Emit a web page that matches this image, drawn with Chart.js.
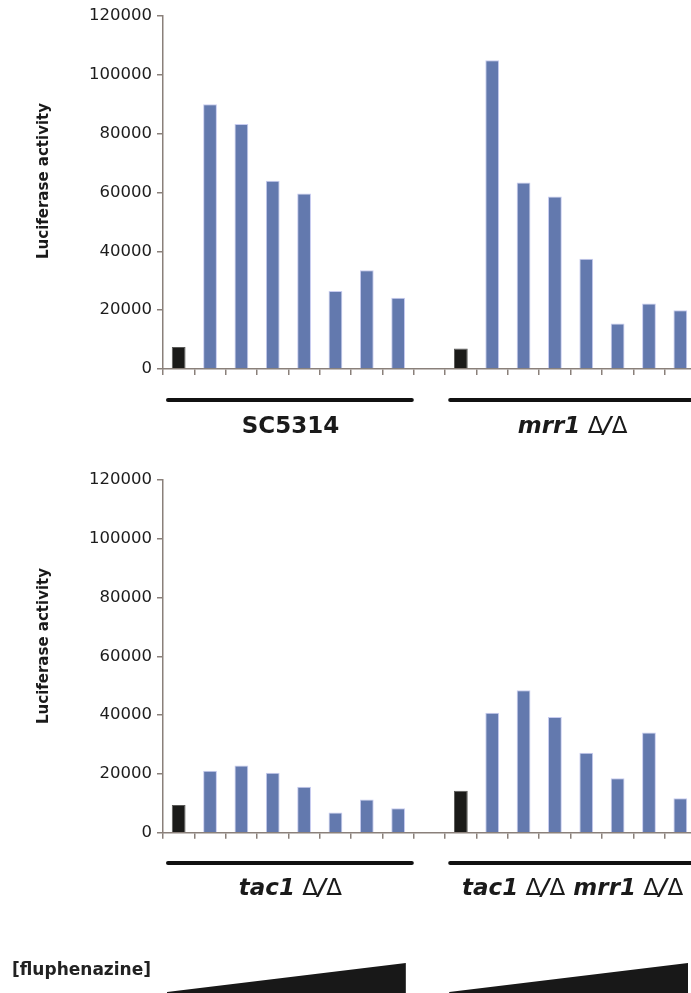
<!DOCTYPE html>
<html>
<head>
<meta charset="utf-8">
<script src="https://cdn.jsdelivr.net/npm/chart.js@4.4.0/dist/chart.umd.min.js"></script>
<style>
html, body { margin: 0; padding: 0; background: #fff; overflow: hidden; width: 691px; height: 993px; }
canvas { position: absolute; left: 0; }
#topChart { top: 0; }
#bottomChart { top: 460px; }
</style>
</head>
<body>
<canvas id="topChart" width="696" height="460"></canvas>
<canvas id="bottomChart" width="696" height="533"></canvas>
<script>
// doses: 0 = no drug (black bar), then increasing fluphenazine
const doses = ['0', '1', '2', '3', '4', '5', '6', '7'];
const sc5314 = [7500, 90000, 83300, 64000, 59700, 26500, 33600, 24200];
const mrr1 = [7000, 105000, 63400, 58600, 37500, 15500, 22300, 20000];
const tac1 = [9400, 21100, 22900, 20400, 15600, 6900, 11300, 8300];
const tac1mrr1 = [14300, 40800, 48500, 39400, 27200, 18500, 34100, 11700];
const yTicks = [0, 20000, 40000, 60000, 80000, 100000, 120000];

const BLUE = '#6379ae';
const BLACK = '#1b1b19';
const AXIS = '#8a807a';

// label pieces: [text, style]
const topLabels = [
    [['SC5314', 'b']],
    [['mrr1', 'bi'], [' \u0394', 'r'], ['/', 'bi'], ['\u0394', 'r']]
];
const bottomLabels = [
    [['tac1', 'bi'], [' \u0394', 'r'], ['/', 'bi'], ['\u0394', 'r']],
    [['tac1', 'bi'], [' \u0394', 'r'], ['/', 'bi'], ['\u0394', 'r'], [' mrr1', 'bi'], [' \u0394', 'r'], ['/', 'bi'], ['\u0394', 'r']]
];

function fontFor(style) {
    if (style === 'bi') return 'italic bold 23px "DejaVu Sans"';
    if (style === 'b') return 'bold 23px "DejaVu Sans"';
    return '23px "DejaVu Sans"';
}

function drawPieces(ctx, pieces, cx, cy) {
    let total = 0;
    pieces.forEach(p => { ctx.font = fontFor(p[1]); total += ctx.measureText(p[0]).width; });
    let x = cx - total / 2;
    ctx.textAlign = 'left';
    ctx.textBaseline = 'middle';
    pieces.forEach(p => {
        ctx.font = fontFor(p[1]);
        ctx.fillText(p[0], x, cy);
        x += ctx.measureText(p[0]).width;
    });
}

const decor = {
    id: 'decor',
    afterDraw(chart, args, o) {
        const ctx = chart.ctx;
        const xs = chart.scales.x;
        const half = (xs.getPixelForValue(1) - xs.getPixelForValue(0)) / 2;
        ctx.save();
        ctx.fillStyle = '#1a1a1a';
        // y title
        ctx.save();
        ctx.translate(44, o.titleY);
        ctx.rotate(-Math.PI / 2);
        ctx.font = 'bold 15px "DejaVu Sans"';
        ctx.textAlign = 'center';
        ctx.textBaseline = 'middle';
        ctx.fillText('Luciferase activity', 0, 0);
        ctx.restore();
        // group brackets and names
        const groups = [[0, 7], [9, 16]];
        groups.forEach((g, i) => {
            const x0 = xs.getPixelForValue(g[0]) - half;
            const x1 = xs.getPixelForValue(g[1]) + half;
            ctx.strokeStyle = '#111';
            ctx.lineWidth = 4;
            ctx.lineCap = 'round';
            ctx.beginPath();
            ctx.moveTo(x0 + 5, o.bracketY);
            ctx.lineTo(x1 - 2, o.bracketY);
            ctx.stroke();
            ctx.fillStyle = '#1a1a1a';
            drawPieces(ctx, o.labels[i], (x0 + x1) / 2 + 2, o.labelY);
            if (o.wedges) {
                ctx.fillStyle = '#181818';
                ctx.beginPath();
                ctx.moveTo(x0 + 4, o.wedgeBottom);
                ctx.lineTo(x1 - 8, o.wedgeTop);
                ctx.lineTo(x1 - 8, o.wedgeBottom + 2);
                ctx.lineTo(x0 + 4, o.wedgeBottom + 2);
                ctx.closePath();
                ctx.fill();
            }
        });
        if (o.wedges) {
            ctx.font = 'bold 17px "DejaVu Sans"';
            ctx.textAlign = 'left';
            ctx.textBaseline = 'middle';
            ctx.fillStyle = '#222';
            ctx.fillText('[fluphenazine]', 12, o.wedgeTop + 8);
        }
        ctx.restore();
    }
};

function makeChart(id, groupA, groupB, labels, areaTop, axisHeight, extra) {
    const cats = [];
    doses.forEach(d => cats.push('A' + d));
    cats.push('gap');
    doses.forEach(d => cats.push('B' + d));
    const values = [...groupA, null, ...groupB];
    const isCtrl = c => c.endsWith('0') && c !== 'gap';
    const colors = cats.map(c => isCtrl(c) ? BLACK : BLUE);
    const borders = cats.map(c => isCtrl(c) ? '#5a5a58' : '#c8ccf0');
    return new Chart(document.getElementById(id), {
        type: 'bar',
        data: {
            labels: cats,
            datasets: [{
                data: values,
                backgroundColor: colors,
                borderColor: borders,
                borderWidth: 1,
                barPercentage: 0.44,
                categoryPercentage: 1
            }]
        },
        options: {
            responsive: false,
            animation: false,
            layout: { padding: { top: areaTop, left: 0, right: 0, bottom: 0 } },
            plugins: {
                legend: { display: false },
                tooltip: { enabled: false },
                decor: Object.assign({ labels: labels }, extra)
            },
            scales: {
                x: {
                    offset: true,
                    grid: { drawOnChartArea: false, offset: true, tickLength: 6, color: AXIS, lineWidth: 1.5 },
                    border: { color: AXIS, width: 1.5 },
                    ticks: { display: false },
                    afterFit: s => { s.height = axisHeight; }
                },
                y: {
                    min: 0,
                    max: 120000,
                    afterBuildTicks: s => { s.ticks = yTicks.map(v => ({ value: v })); },
                    grid: { drawOnChartArea: false, tickLength: 6, color: AXIS, lineWidth: 1.5 },
                    border: { color: AXIS, width: 1.5 },
                    ticks: {
                        padding: 5,
                        color: '#1c1c1c',
                        font: { family: 'DejaVu Sans', size: 16.5 },
                        callback: v => String(v)
                    },
                    afterFit: s => { s.width = 163; }
                }
            }
        },
        plugins: [decor]
    });
}

makeChart('topChart', sc5314, mrr1, topLabels, 16, 91,
    { titleY: 181, bracketY: 400, labelY: 427 });
makeChart('bottomChart', tac1, tac1mrr1, bottomLabels, 20, 160.3,
    { titleY: 186, bracketY: 403, labelY: 429, wedges: true, wedgeTop: 503, wedgeBottom: 532 });
</script>
</body>
</html>
